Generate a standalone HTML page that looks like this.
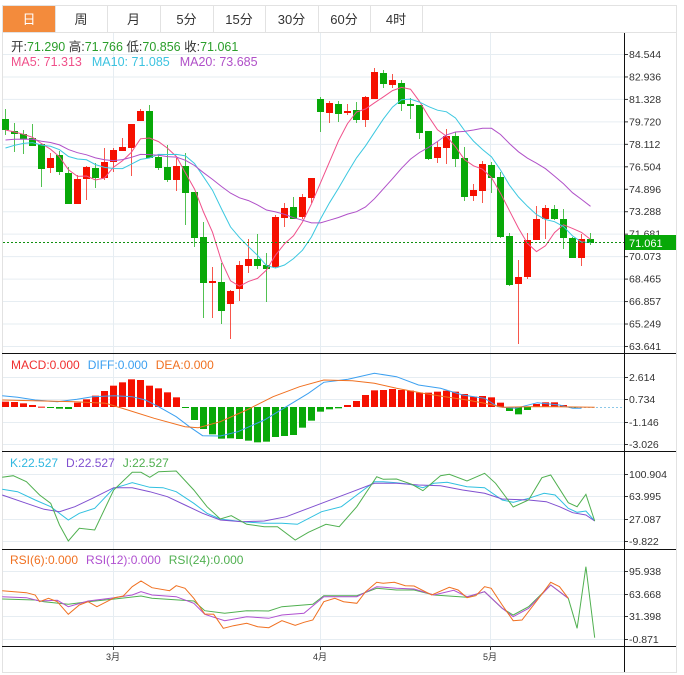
<!DOCTYPE html>
<html><head><meta charset="utf-8"><style>
body{margin:0;background:#fff;width:684px;height:675px;overflow:hidden;font-family:"Liberation Sans","Noto Sans CJK SC",sans-serif}
svg{position:absolute;left:0;top:0}
</style></head><body>
<svg id="s" width="684" height="675" xmlns="http://www.w3.org/2000/svg" font-family="Liberation Sans, Noto Sans CJK SC, sans-serif"></svg>
<script>
const S=document.getElementById('s');let h='';
const C=[[0,119,130,109,135],[0,131,134,123,152],[0,134,139,130,154],[0,138,146,124,146],[0,144,169,144,187],[1,158,168,153,173],[0,155,172,151,175],[0,173,204,167,204],[1,179,204,175,200],[1,167,179,166,200],
[0,168,178,163,188],[1,162,178,148,180],[1,150,162,148,172],[1,147,151,138,151],[1,124,148,124,176],[1,111,121,109,121],[0,111,158,105,158],[0,157,168,155,170],[0,167,180,145,182],[1,166,180,158,191],
[0,166,193,153,225],[0,192,238,192,247],[0,237,283,222,318],[1,281,283,267,318],[0,282,311,263,324],[1,291,304,290,339],[1,265,289,261,301],[1,259,266,239,273],[0,259,266,234,269],[0,265,269,253,302],
[1,217,267,215,268],[1,208,218,203,227],[0,207,219,197,219],[1,197,217,194,219],[1,178,198,178,203],[0,99,112,97,132],[1,103,113,101,123],[0,104,114,101,122],[1,111,113,104,115],[0,110,120,102,123],
[1,97,120,96,127],[1,72,99,68,99],[0,73,84,70,88],[1,80,85,74,88],[0,83,104,80,111],[0,104,106,98,119],[0,105,133,105,139],[0,131,159,131,160],[1,147,158,142,163],[1,136,148,129,164],
[0,136,159,132,167],[0,158,197,147,201],[1,190,196,184,201],[1,164,191,161,203],[0,165,178,162,193],[0,177,237,172,238],[0,236,285,233,286],[1,277,284,260,344],[1,240,277,233,279],[1,219,240,206,240],
[1,208,219,205,239],[0,209,219,205,220],[0,219,238,209,249],[0,238,258,237,258],[1,239,258,234,266],[0,239,243,233,245]];
const N=C.length,X=i=>5+i*9;
const P=y=>84.544-(y-54)/13.97;
const cl=C.map(c=>P(c[0]?c[1]:c[2]));
const RED='#f51000',GRN='#08a808';
h+=`<rect x="2.5" y="5.5" width="674" height="667" fill="none" stroke="#e2e2e2"/>`;
const tabs=['日','周','月','5分','15分','30分','60分','4时'],tx=[3,55,107,160,213,265,318,370,422];
for(let i=0;i<8;i++){if(i==0)h+=`<rect x="3" y="6" width="52" height="26" fill="#f38b3c"/>`;
h+=`<line x1="${tx[i+1]+.5}" y1="6" x2="${tx[i+1]+.5}" y2="32" stroke="#e2e2e2"/>`;
h+=`<text x="${(tx[i]+tx[i+1])/2}" y="24" font-size="13" text-anchor="middle" fill="${i?'#333':'#fff'}">${tabs[i]}</text>`;}
h+=`<line x1="2" y1="32.5" x2="676" y2="32.5" stroke="#e2e2e2"/>`;
const grid=(ys,labs)=>{ys.forEach((y,k)=>{h+=`<line x1="3" y1="${y+.5}" x2="624" y2="${y+.5}" stroke="#e6edf2"/><line x1="624" y1="${y+.5}" x2="628" y2="${y+.5}" stroke="#333"/><text x="629" y="${y+4}" font-size="10.5" fill="#333">${labs[k]}</text>`;});};
const pl=['84.544','82.936','81.328','79.720','78.112','76.504','74.896','73.288','71.681','70.073','68.465','66.857','65.249','63.641'];
grid(pl.map((_,k)=>54+k*22.46),pl);
grid([377,399,422,444],['2.614','0.734','-1.146','-3.026']);
grid([474,496,519,541],['100.904','63.995','27.087','-9.822']);
grid([571,594,616,639],['95.938','63.668','31.398','-0.871']);
[113,320,490].forEach(x=>h+=`<line x1="${x+.5}" y1="33" x2="${x+.5}" y2="646" stroke="#e6edf2"/>`);
C.forEach((c,i)=>{const x=X(i),col=c[0]?RED:GRN;
h+=`<line x1="${x+.5}" y1="${c[3]}" x2="${x+.5}" y2="${c[4]}" stroke="${col}" opacity=".7"/>`;
h+=`<rect x="${x-3}" y="${c[1]}" width="7" height="${Math.max(1,c[2]-c[1])}" fill="${col}"/>`;});
const Y=p=>54+(84.544-p)*13.97;
const poly=(arr,yf,col)=>{let s='';arr.forEach((v,i)=>{s+=`${X(i)+.5},${yf(v).toFixed(1)} `});h+=`<polyline points="${s}" fill="none" stroke="${col}" stroke-width="1"/>`;};
const ma=n=>cl.map((_,i)=>{let a=Math.max(0,i-n+1),s=0;for(let j=a;j<=i;j++)s+=cl[j];return s/(i-a+1)});
const m20=ma(20).map((v,i)=>i<12?v*(i/12)+P(140)*(1-i/12):v);
const m10=ma(10).map((v,i)=>i<6?v*(i/6)+P(148)*(1-i/6):v);
poly(ma(5),Y,'#f0508a');poly(m10,Y,'#3cc8e0');poly(m20,Y,'#b050c8');
h+=`<line x1="3" y1="242.5" x2="624" y2="242.5" stroke="#109010" stroke-dasharray="2,2"/>`;
h+=`<rect x="625" y="235" width="51" height="15" fill="#08a808"/><text x="629" y="247" font-size="11" fill="#fff">71.061</text>`;
// traced lines: points in zoom coords (vx, vy) => x=vx/2.27, y=base+vy/3
const tr=(pts,base,col)=>{h+=`<polyline points="${pts.map(p=>(p[0]/2.27).toFixed(1)+','+(base+p[1]/3).toFixed(1)).join(' ')}" fill="none" stroke="${col}" stroke-width="1"/>`;};
// MACD bars (zoom vy of bar end), zero at 407
const MB=[155,156,160,165,170,171,176,177,158,148,137,123,107,97,88,90,107,115,127,142,172,210,237,253,266,265,267,272,277,275,261,258,255,233,212,185,178,175,165,153,135,121,120,117,120,122,128,128,125,122,125,132,140,138,142,158,183,193,180,162,157,157,165,172];
MB.forEach((v,i)=>{const y=350+v/3;const t=Math.min(y,407),hh=Math.max(1,Math.abs(y-407));h+=`<rect x="${X(i)-3}" y="${t}" width="7" height="${hh}" fill="${y<407?RED:GRN}"/>`;});
h+=`<line x1="${X(63)}" y1="407.5" x2="624" y2="407.5" stroke="#8cc8e8" stroke-dasharray="2,2"/>`;
tr([[5,137],[40,142],[80,150],[130,155],[175,148],[210,140],[260,137],[300,140],[330,150],[360,170],[400,200],[430,230],[460,257],[500,258],[540,245],[600,210],[650,170],[700,130],[735,97],[790,88],[850,70],[900,80],[950,105],[1000,115],[1050,135],[1100,145],[1130,170],[1170,175],[1220,158],[1270,165],[1300,175],[1320,175]],350,'#3ca0f0');
tr([[5,150],[100,153],[170,155],[240,160],[290,180],[350,205],[420,230],[450,233],[500,215],[560,180],[620,140],[680,110],[735,90],[800,92],[850,100],[900,115],[960,130],[1010,140],[1060,150],[1100,160],[1140,172],[1200,170],[1260,170],[1350,172]],350,'#f07020');
// KDJ
tr([[5,133],[40,140],[80,165],[115,185],[155,225],[180,205],[215,190],[258,130],[300,113],[340,127],[370,128],[400,140],[440,175],[470,205],[500,222],[550,230],[600,235],[640,235],[675,238],[730,200],[775,185],[810,150],[850,110],[870,110],[900,113],[930,118],[960,128],[985,115],[1015,112],[1060,125],[1100,128],[1140,165],[1165,172],[1200,160],[1235,145],[1260,150],[1290,190],[1310,202],[1330,198],[1350,228]],445,'#30c0e0');
tr([[5,150],[60,175],[100,193],[135,200],[170,185],[210,160],[258,128],[300,128],[340,140],[380,155],[420,180],[460,205],[500,225],[550,230],[600,228],[650,215],[700,190],[760,160],[800,140],[850,115],[900,115],[950,120],[1000,122],[1050,135],[1100,145],[1140,162],[1200,165],[1240,170],[1270,185],[1300,203],[1330,210],[1350,228]],445,'#8050d0');
tr([[5,97],[30,92],[60,110],[90,150],[115,175],[135,240],[155,288],[180,250],[215,255],[258,135],[300,82],[320,82],[340,97],[360,80],[400,78],[440,135],[470,185],[500,222],[525,212],[560,238],[600,245],[630,245],[670,285],[700,262],[740,238],[770,245],[810,185],[855,95],[870,103],[900,102],[935,118],[960,137],[1000,92],[1020,88],[1060,108],[1100,85],[1125,115],[1165,186],[1200,165],[1230,98],[1250,90],[1290,173],[1310,185],[1330,148],[1350,228]],445,'#50b050');
// RSI
tr([[5,462],[80,465],[100,470],[155,478],[200,470],[260,462],[320,453],[345,460],[440,468],[465,497],[510,505],[560,497],[610,498],[640,485],[710,478],[735,452],[810,452],[855,430],[900,435],[940,435],[985,450],[1060,457],[1100,440],[1140,490],[1165,510],[1200,485],[1250,420],[1290,460],[1310,550],[1330,365],[1350,578]],445,'#50b050');
tr([[5,455],[60,458],[90,468],[130,466],[155,485],[200,468],[260,458],[300,450],[320,440],[345,450],[400,455],[440,475],[465,508],[510,527],[560,515],[610,520],[640,510],[690,505],[735,455],[810,455],[855,425],[900,430],[940,432],[985,450],[1030,436],[1060,455],[1100,440],[1140,490],[1165,515],[1200,490],[1250,420],[1290,460]],445,'#b050d0');
tr([[5,437],[60,443],[80,450],[90,470],[110,460],[130,470],[155,508],[180,480],[200,470],[220,485],[260,458],[280,453],[300,425],[320,408],[345,428],[385,437],[400,422],[420,430],[440,460],[465,507],[485,508],[507,550],[530,542],[560,535],[585,545],[610,548],[640,527],[670,541],[690,532],[710,525],[735,470],[760,460],[780,470],[810,475],[830,440],[855,412],[870,415],[895,412],[920,422],[940,423],[980,450],[1020,427],[1040,435],[1060,458],[1080,452],[1100,425],[1115,430],[1140,480],[1165,527],[1185,525],[1220,465],[1250,412],[1270,425],[1290,460]],445,'#f07020');
[353,451,549,646].forEach(y=>h+=`<line x1="2" y1="${y+.5}" x2="676" y2="${y+.5}" stroke="#111"/>`);
h+=`<line x1="624.5" y1="33" x2="624.5" y2="672" stroke="#111"/>`;
[[113,'3月'],[320,'4月'],[490,'5月']].forEach(([x,t])=>h+=`<line x1="${x+.5}" y1="646" x2="${x+.5}" y2="650" stroke="#333"/><text x="${x}" y="660" font-size="9" text-anchor="middle" fill="#333">${t}</text>`);
h+=`<text x="11" y="51" font-size="12.5"><tspan fill="#333">开:</tspan><tspan fill="#2a9e2a">71.290 </tspan><tspan fill="#333"> 高:</tspan><tspan fill="#2a9e2a">71.766 </tspan><tspan fill="#333"> 低:</tspan><tspan fill="#2a9e2a">70.856 </tspan><tspan fill="#333"> 收:</tspan><tspan fill="#2a9e2a">71.061</tspan></text>`;
h+=`<text x="11" y="66" font-size="12.5"><tspan fill="#f0508a">MA5: 71.313</tspan><tspan fill="#3cc3e0" dx="10">MA10: 71.085</tspan><tspan fill="#b050c8" dx="10">MA20: 73.685</tspan></text>`;
h+=`<text x="11" y="369" font-size="12"><tspan fill="#f03030">MACD:0.000</tspan><tspan fill="#3ca0f0" dx="8">DIFF:0.000</tspan><tspan fill="#f07020" dx="8">DEA:0.000</tspan></text>`;
h+=`<text x="10" y="467" font-size="12"><tspan fill="#30b8e0">K:22.527</tspan><tspan fill="#8050d0" dx="8">D:22.527</tspan><tspan fill="#50b050" dx="8">J:22.527</tspan></text>`;
h+=`<text x="10" y="564" font-size="12"><tspan fill="#f07020">RSI(6):0.000</tspan><tspan fill="#b050d0" dx="8">RSI(12):0.000</tspan><tspan fill="#50b050" dx="8">RSI(24):0.000</tspan></text>`;
S.innerHTML=h;
</script>
</body></html>
